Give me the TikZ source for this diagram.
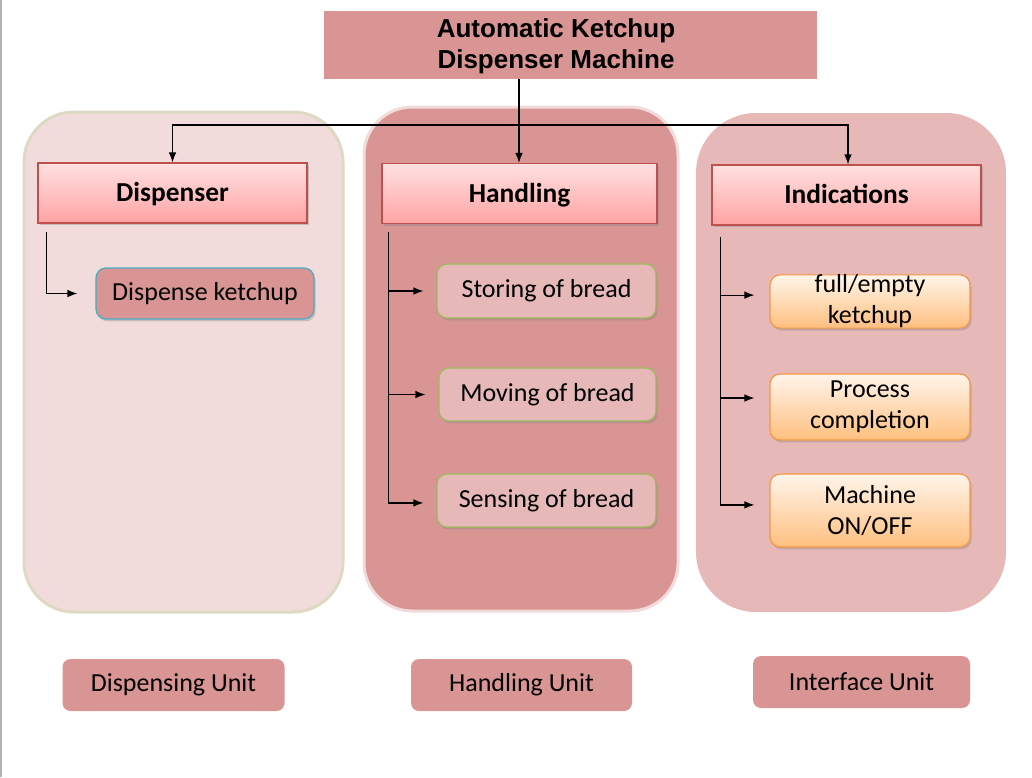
\documentclass[tikz,border=0pt]{standalone}
\usepackage{fontspec}
\setmainfont{Carlito}
\newfontfamily\titlefont{Liberation Sans}
\usetikzlibrary{arrows.meta,shadows}
\definecolor{rosedark}{HTML}{D99594}
\definecolor{roselight}{HTML}{F2DCDB}
\definecolor{rosemid}{HTML}{E6B9B8}
\definecolor{beigeline}{HTML}{DDD9C3}
\definecolor{redline}{HTML}{C0504D}
\definecolor{blueline}{HTML}{4BACC6}
\definecolor{greenline}{HTML}{9BBB59}
\definecolor{orangeline}{HTML}{F79646}
\begin{document}
\begin{tikzpicture}[
                x=0.5pt, y=-0.5pt,
                font=\fontsize{13}{15.5}\selectfont,
                panel/.style={
                    inner sep=0pt, line width=1.5pt
                },
                header/.style={
                    draw=redline, line width=0.6pt, top color=red!12, bottom color=red!36,
                    minimum width=134.5pt, minimum height=30pt, inner sep=0pt,
                    text depth=1pt,
                    font=\fontsize{13.7}{15.5}\selectfont\bfseries,
                    drop shadow={shadow xshift=0.8pt, shadow yshift=-1.2pt, opacity=0.35}
                },
                itembox/.style={
                    draw, rounded corners=5pt, line width=0.6pt, inner sep=0pt,
                    minimum width=109.5pt, minimum height=27pt, align=center,
                    drop shadow={shadow xshift=0.8pt, shadow yshift=-1.2pt, opacity=0.35}
                },
                bread/.style={
                    itembox, draw=greenline, fill=rosemid
                },
                signal/.style={
                    itembox, draw=orangeline, top color=orange!8, bottom color=orange!50,
                    minimum width=100pt
                },
                unitlabel/.style={
                    fill=rosedark, rounded corners=4pt, inner sep=0pt,
                    minimum width=111pt, minimum height=26pt
                },
                link/.style={
                    line width=0.6pt, -{Latex[length=5pt,width=3.8pt]}
                }
            ]
            \useasboundingbox (0, 0) rectangle (1032, 777);
            \draw[gray!60, line width=1pt] (1, 0) -- (1, 777);

            % panels
            \node[panel, draw=beigeline, fill=roselight, rounded corners=25pt,
                minimum width=159.5pt, minimum height=250pt] (dpanel) at (183.5, 362) {};
            \node[panel, draw=roselight, fill=rosedark, rounded corners=24pt,
                minimum width=157pt, minimum height=252pt] (hpanel) at (521, 359) {};
            \node[panel, fill=rosemid, rounded corners=30pt,
                minimum width=155pt, minimum height=249.5pt] (ipanel) at (851, 362.5) {};

            \node[fill=rosedark, minimum width=246.5pt, minimum height=34pt, inner sep=0pt]
                (title) at (570.5, 45) {};
            \node[align=center, inner sep=0pt, font=\titlefont\fontsize{13}{15.5}\selectfont\bfseries]
                (titletext) at (556, 46) {Automatic Ketchup\\Dispenser Machine};

            \node[header] (disp) at (172.5, 193) {Dispenser};
            \node[header, minimum width=137.5pt] (hand) at (519.5, 193.5) {Handling};
            \node[header] (ind) at (846.5, 195) {Indications};

            \node[itembox, draw=blueline, fill=rosedark, minimum width=109pt, minimum height=25.5pt]
                (dk) at (205, 293.5) {Dispense ketchup};

            \node[bread] (store) at (546.5, 291) {Storing of bread};
            \node[bread, minimum width=108.5pt, minimum height=26.5pt] (move) at (547.5, 394.5) {Moving of bread};
            \node[bread, minimum height=26.5pt] (sense) at (546.5, 500.5) {Sensing of bread};

            \node[signal, minimum height=26.5pt] (full) at (870, 301.5) {full/empty\\ketchup};
            \node[signal, minimum height=33pt] (proc) at (870, 407) {Process\\completion};
            \node[signal, minimum height=36.5pt] (mach) at (870, 510.5) {Machine\\ON/OFF};

            \node[unitlabel] (dunit) at (173.5, 685) {Dispensing Unit};
            \node[unitlabel, minimum width=110.5pt] (hunit) at (521.5, 685) {Handling Unit};
            \node[unitlabel, minimum width=108.5pt] (iunit) at (861.5, 682) {Interface Unit};

            % connectors
            \coordinate (bus) at (519, 125);
            \draw[link] (title.south -| bus) -- (hand.north -| bus);
            \draw[link] (bus) -| (disp.north);
            \draw[link] (bus) -| (ind.north -| 848, 0);

            \draw[link] ([xshift=4.5pt]disp.south west) ++(0, 8) |- ([xshift=-9pt]dk.west);

            \draw[line width=0.6pt] ([xshift=3.5pt]hand.south west) ++(0, 8) coordinate (hb) -- (hb |- 0, 503);
            \foreach \n/\dy in {store/0, move/0, sense/-1.2}
                \draw[link] ([yshift=\dy pt]hb |- \n.west) -- ([xshift=-6.5pt, yshift=\dy pt]\n.west);

            \draw[line width=0.6pt] ([xshift=4.5pt]ind.south west) ++(0, 11) coordinate (ib) -- (ib |- 0, 505);
            \foreach \n/\dy in {full/3.2, proc/4.5, mach/2.8}
                \draw[link] ([yshift=\dy pt]ib |- \n.west) -- ([xshift=-7.5pt, yshift=\dy pt]\n.west);
            \end{tikzpicture}
\end{document}
